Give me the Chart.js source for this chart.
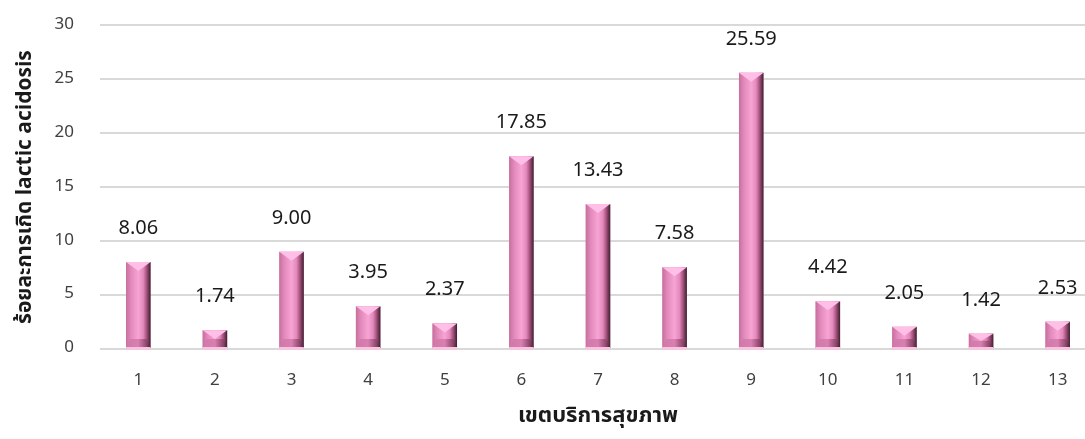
<!DOCTYPE html>
<html>
<head>
<meta charset="utf-8">
<script src="https://cdn.jsdelivr.net/npm/chart.js@4.4.1/dist/chart.umd.min.js"></script>
<style>
  html, body { margin: 0; padding: 0; background: #fff; overflow: hidden; }
  #wrap { width: 1096px; height: 450px; position: relative; top: -11px; }
</style>
</head>
<body>
<div id="wrap"><canvas id="chart"></canvas></div>
<script>
// chart data
const regions = ["1", "2", "3", "4", "5", "6", "7", "8", "9", "10", "11", "12", "13"];
const rates = [8.06, 1.74, 9.00, 3.95, 2.37, 17.85, 13.43, 7.58, 25.59, 4.42, 2.05, 1.42, 2.53];
const rateLabels = ["8.06", "1.74", "9.00", "3.95", "2.37", "17.85", "13.43", "7.58", "25.59", "4.42", "2.05", "1.42", "2.53"];
const yTitle = "ร้อยละการเกิด lactic acidosis";
const xTitle = "เขตบริการสุขภาพ";

const FONT = 'Tahoma, "Noto Sans Thai", "Noto Sans", "DejaVu Sans", sans-serif';

// draws the bevelled "3D" look over each bar
const bevelBars = {
  id: "bevelBars",
  afterDatasetsDraw(chart) {
    const ctx = chart.ctx;
    const meta = chart.getDatasetMeta(0);
    meta.data.forEach((bar, i) => {
      const w = bar.width;
      const L = bar.x - w / 2, R = bar.x + w / 2;
      const T = bar.y, B = bar.base;
      const h = B - T;
      const d = Math.min(9, h / 2);
      const s = Math.min(4, w / 4);

      ctx.save();
      // front face
      const g = ctx.createLinearGradient(L, 0, R, 0);
      g.addColorStop(0, "#c56f9c");
      g.addColorStop(0.2, "#e289bb");
      g.addColorStop(0.5, "#f7a4d4");
      g.addColorStop(0.7, "#e389bc");
      g.addColorStop(0.84, "#a5527d");
      g.addColorStop(1, "#3c1f2e");
      ctx.fillStyle = g;
      ctx.fillRect(L, T, w, h);

      // bottom trapezoid (shaded)
      const gb = ctx.createLinearGradient(L, 0, R, 0);
      gb.addColorStop(0, "#cf79a8");
      gb.addColorStop(0.5, "#d97fb1");
      gb.addColorStop(0.85, "#8a4468");
      gb.addColorStop(1, "#3c1f2e");
      ctx.fillStyle = gb;
      ctx.beginPath();
      ctx.moveTo(L, B); ctx.lineTo(R, B); ctx.lineTo(R - s, B - d); ctx.lineTo(L + s, B - d);
      ctx.closePath(); ctx.fill();

      // top triangle (light)
      ctx.fillStyle = "#ffbfe6";
      ctx.beginPath();
      ctx.moveTo(L, T); ctx.lineTo(R, T); ctx.lineTo(bar.x, T + d);
      ctx.closePath(); ctx.fill();

      // light base line
      ctx.fillStyle = "#f6c4df";
      ctx.fillRect(L, B - 1, w, 3);

      // value label
      ctx.fillStyle = "#1a1a1a";
      ctx.font = "20px " + FONT;
      ctx.textAlign = "center";
      ctx.textBaseline = "middle";
      ctx.fillText(rateLabels[i], bar.x, T - 32);
      ctx.restore();
    });
  }
};

new Chart(document.getElementById("chart"), {
  type: "bar",
  data: {
    labels: regions,
    datasets: [{
      data: rates,
      backgroundColor: "#e88fc3",
      borderWidth: 0,
      categoryPercentage: 1,
      barPercentage: 0.32
    }]
  },
  options: {
    responsive: true,
    maintainAspectRatio: false,
    animation: false,
    layout: { padding: { top: 15, right: 0, left: 0, bottom: 0 } },
    plugins: { legend: { display: false }, tooltip: { enabled: false } },
    scales: {
      y: {
        min: 0, max: 30,
        ticks: { stepSize: 5, color: "#404040", padding: 26, font: { family: FONT, size: 17 } },
        grid: { color: "#d9d9d9", lineWidth: 2, drawTicks: false },
        border: { display: false },
        title: { display: true, text: yTitle, color: "#1a1a1a", padding: { top: 14, bottom: 0 },
                 font: { family: FONT, size: 21, weight: "bold" } },
        afterFit: (s) => { s.width = 100; }
      },
      x: {
        ticks: { color: "#404040", padding: 22, font: { family: FONT, size: 17 } },
        grid: { display: false, drawTicks: false },
        border: { display: false },
        title: { display: true, text: xTitle, color: "#1a1a1a", padding: { top: 6, bottom: 8 },
                 font: { family: FONT, size: 22, weight: "bold" } },
        afterFit: (s) => { s.height = 90; }
      }
    }
  },
  plugins: [bevelBars]
});
</script>
</body>
</html>
